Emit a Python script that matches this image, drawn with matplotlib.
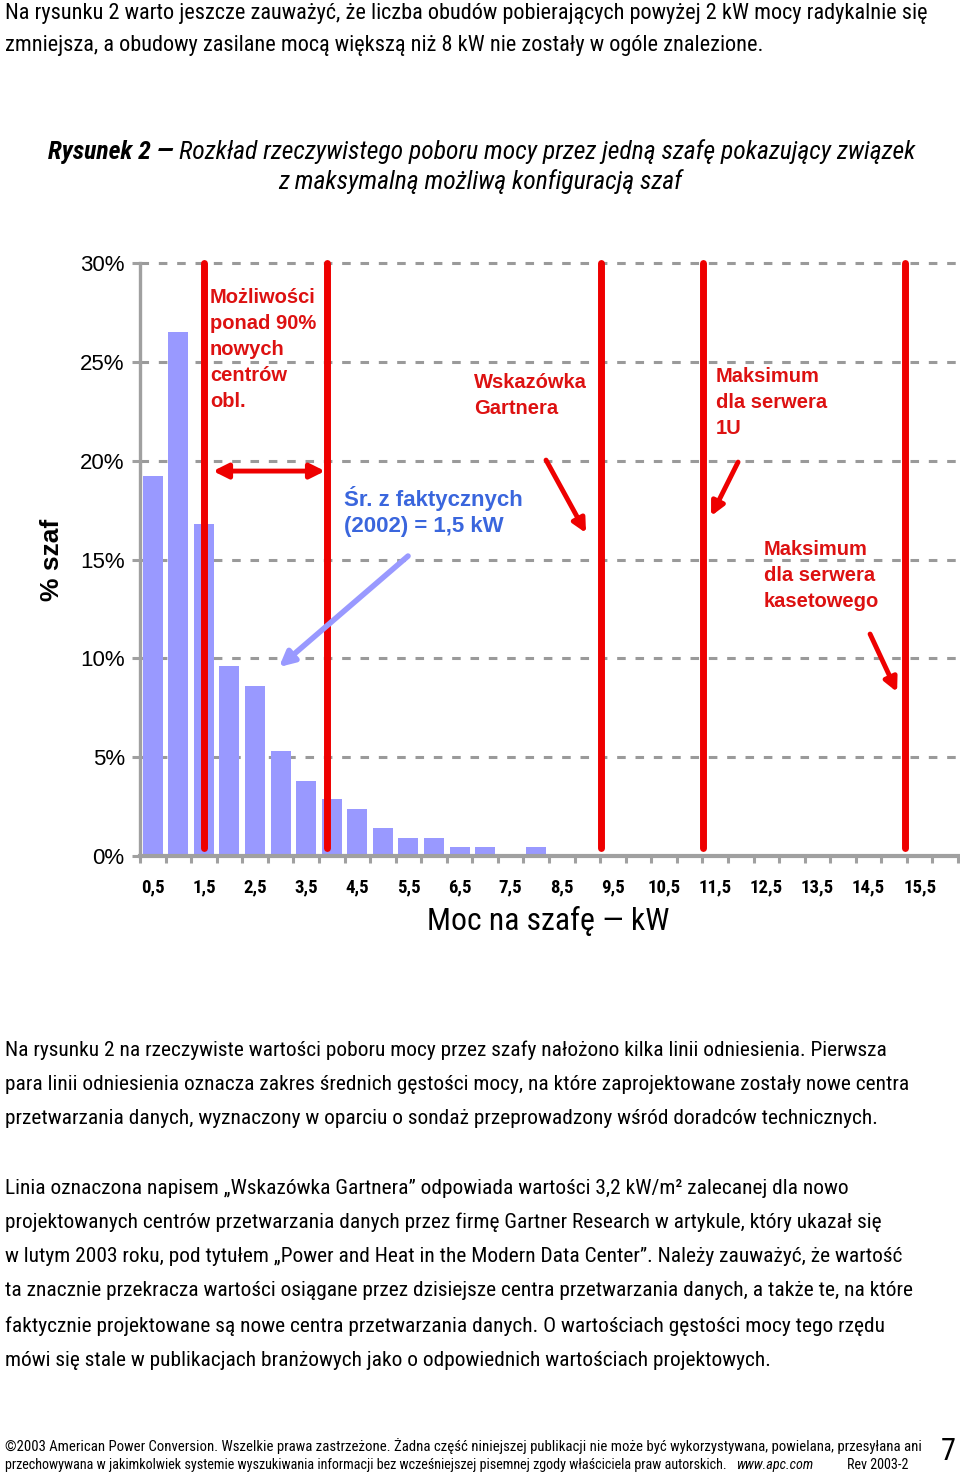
import matplotlib
matplotlib.use("Agg")
import matplotlib.pyplot as plt
from matplotlib import font_manager as fm
import numpy as np

# ---------------- data ----------------
power_kw = [0.5, 1.0, 1.5, 2.0, 2.5, 3.0, 3.5, 4.0, 4.5, 5.0, 5.5, 6.0, 6.5, 7.0, 7.5, 8.0,
            8.5, 9.0, 9.5, 10.0, 10.5, 11.0, 11.5, 12.0, 12.5, 13.0, 13.5, 14.0, 14.5, 15.0, 15.5, 16.0]
share_pct = [19.2, 26.5, 16.8, 9.6, 8.6, 5.3, 3.8, 2.9, 2.4, 1.4, 0.9, 0.9, 0.45, 0.45, 0.0, 0.45,
             0, 0, 0, 0, 0, 0, 0, 0, 0, 0, 0, 0, 0, 0, 0, 0]
xtick_values = [0.5, 1.5, 2.5, 3.5, 4.5, 5.5, 6.5, 7.5, 8.5, 9.5, 10.5, 11.5, 12.5, 13.5, 14.5, 15.5]
xtick_labels = ["0,5", "1,5", "2,5", "3,5", "4,5", "5,5", "6,5", "7,5", "8,5", "9,5",
                "10,5", "11,5", "12,5", "13,5", "14,5", "15,5"]
ytick_values = [0, 5, 10, 15, 20, 25, 30]
ytick_labels = ["0%", "5%", "10%", "15%", "20%", "25%", "30%"]
ref_lines_kw = [1.5, 3.9, 9.27, 11.26, 15.21]

# ---------------- fonts ----------------
names = {f.name for f in fm.fontManager.ttflist}
NARROW = "Roboto Condensed" if "Roboto Condensed" in names else "Liberation Sans"
SANS = "Liberation Sans"

W, H = 960, 1476
fig = plt.figure(figsize=(W / 100, H / 100), dpi=100)
fig.patch.set_facecolor("white")
renderer = fig.canvas.get_renderer()


def fx(px):
    return px / W


def fy(py):
    return 1 - py / H


def ftext(x, y, s, size, target_w=None, **kw):
    t = fig.text(fx(x), fy(y), s, fontsize=size, **kw)
    if target_w:
        w = t.get_window_extent(renderer).width
        t.set_fontsize(size * target_w / w)
    return t


# ---------------- top paragraph ----------------
ftext(5, 13, "Na rysunku 2 warto jeszcze zauważyć, że liczba obudów pobierających powyżej 2 kW mocy radykalnie się",
      14, target_w=927, family=NARROW, va="center", ha="left")
ftext(5, 45, "zmniejsza, a obudowy zasilane mocą większą niż 8 kW nie zostały w ogóle znalezione.",
      14, target_w=759, family=NARROW, va="center", ha="left")

# ---------------- title ----------------
t1 = fig.text(0, fy(152), "Rysunek 2 — ", fontsize=20, family=NARROW, weight="bold", style="italic", va="center")
t2 = fig.text(0, fy(152), "Rozkład rzeczywistego poboru mocy przez jedną szafę pokazujący związek",
              fontsize=20, family=NARROW, style="italic", va="center")
w1 = t1.get_window_extent(renderer).width
w2 = t2.get_window_extent(renderer).width
scale = (913 - 48) / (w1 + w2)
t1.set_fontsize(20 * scale)
t2.set_fontsize(20 * scale)
w1 = t1.get_window_extent(renderer).width
t1.set_x(fx(48))
t2.set_x(fx(48 + w1))
fig.text(fx(480), fy(182), "z maksymalną możliwą konfiguracją szaf", fontsize=20 * scale,
         family=NARROW, style="italic", va="center", ha="center")

# ---------------- chart ----------------
ax = fig.add_axes([fx(140), fy(856), fx(958) - fx(140), fy(263) - fy(856)])
ax.set_xlim(0.25, 16.25)
ax.set_ylim(0, 30)

GRID = "#9a9a9a"
for yv in ytick_values[1:]:
    ax.axhline(yv, color=GRID, lw=2.2, linestyle=(0, (2.8, 3.2)), zorder=1, clip_on=False)

ax.bar(power_kw, share_pct, width=0.39, color="#9999ff", zorder=2)

for xv in ref_lines_kw:
    ax.plot([xv, xv], [0.4, 30], color="#ee0000", lw=5.0, solid_capstyle="round", zorder=4, clip_on=False)

for side in ["top", "right"]:
    ax.spines[side].set_visible(False)
ax.spines["left"].set_color("#a0a0a0")
ax.spines["left"].set_linewidth(2.4)
ax.spines["bottom"].set_color("#a0a0a0")
ax.spines["bottom"].set_linewidth(3.0)
ax.spines["left"].set_zorder(3)

ax.set_yticks(ytick_values)
ax.set_yticklabels(ytick_labels, fontsize=16, family=SANS)
ax.tick_params(axis="y", length=6, width=2.2, color="#a0a0a0", pad=5)

ax.set_xticks(xtick_values)
ax.set_xticklabels(xtick_labels, fontsize=13.5, family=NARROW, weight="bold")
ax.set_xticks(np.arange(0.25, 16.3, 0.5), minor=True)
ax.tick_params(axis="x", which="major", length=0, pad=16)
ax.tick_params(axis="x", which="minor", length=5, width=2.2, color="#a0a0a0")

fig.text(fx(52), fy(560), "% szaf", rotation=90, fontsize=19, weight="bold", family=SANS,
         ha="center", va="center")
ftext(548, 921, "Moc na szafę — kW", 20, target_w=243, family=NARROW, ha="center", va="center")

RED = "#dd1111"
BLUE = "#3a66dd"


def px2d(px, py):
    return 0.25 + (px - 140) / 51.12, (856 - py) / 19.77


def atext(px, py, s, color, size, ls=1.46):
    x, y = px2d(px, py)
    ax.text(x, y, s, color=color, fontsize=size, weight="bold", family=SANS, va="top", ha="left",
            linespacing=ls, zorder=5)


def arrow(p0, p1, color, style="-|>", lw=3.5, ms=20):
    ax.annotate("", xy=px2d(*p1), xytext=px2d(*p0),
                arrowprops=dict(arrowstyle=style, color=color, lw=lw, mutation_scale=ms,
                                shrinkA=0, shrinkB=0), zorder=5)


atext(210, 288, "Możliwości\nponad 90%\nnowych\ncentrów\nobl.", RED, 14.5)
arrow((213, 471), (325, 471), "#ee0000", style="<|-|>", lw=3.5, ms=22)
atext(344, 486, "Śr. z faktycznych\n(2002) = 1,5 kW", BLUE, 16, ls=1.3)
arrow((408, 556), (279, 667), "#9999ff", lw=4, ms=22)
atext(474, 373, "Wskazówka\nGartnera", RED, 14.5)
arrow((546, 460), (586, 533), "#ee0000", lw=3.5, ms=20)
atext(716, 367, "Maksimum\ndla serwera\n1U", RED, 14.5)
arrow((738, 462), (711, 516), "#ee0000", lw=3.5, ms=20)
atext(764, 540, "Maksimum\ndla serwera\nkasetowego", RED, 14.5)
arrow((870, 634), (897, 692), "#ee0000", lw=3.5, ms=20)

# ---------------- body text ----------------
body1 = [
    "Na rysunku 2 na rzeczywiste wartości poboru mocy przez szafy nałożono kilka linii odniesienia. Pierwsza",
    "para linii odniesienia oznacza zakres średnich gęstości mocy, na które zaprojektowane zostały nowe centra",
    "przetwarzania danych, wyznaczony w oparciu o sondaż przeprowadzony wśród doradców technicznych.",
]
body2 = [
    "Linia oznaczona napisem „Wskazówka Gartnera” odpowiada wartości 3,2 kW/m² zalecanej dla nowo",
    "projektowanych centrów przetwarzania danych przez firmę Gartner Research w artykule, który ukazał się",
    "w lutym 2003 roku, pod tytułem „Power and Heat in the Modern Data Center”. Należy zauważyć, że wartość",
    "ta znacznie przekracza wartości osiągane przez dzisiejsze centra przetwarzania danych, a także te, na które",
    "faktycznie projektowane są nowe centra przetwarzania danych. O wartościach gęstości mocy tego rzędu",
    "mówi się stale w publikacjach branżowych jako o odpowiednich wartościach projektowych.",
]
ref = ftext(5, 1050, body1[0], 14, target_w=885, family=NARROW, va="center", ha="left")
bsize = ref.get_fontsize()
for s, y in zip(body1[1:], [1085, 1119]):
    ftext(5, y, s, bsize, family=NARROW, va="center", ha="left")
for s, y in zip(body2, [1188, 1222, 1257, 1291, 1326, 1360]):
    ftext(5, y, s, bsize, family=NARROW, va="center", ha="left")

# ---------------- footer ----------------
ftext(5, 1446, "©2003 American Power Conversion. Wszelkie prawa zastrzeżone. Żadna część niniejszej publikacji "
      "nie może być wykorzystywana, powielana, przesyłana ani", 10, target_w=905,
      family=NARROW, va="center", ha="left")
f2 = ftext(5, 1465, "przechowywana w jakimkolwiek systemie wyszukiwania informacji bez wcześniejszej "
           "pisemnej zgody właściciela praw autorskich.", 10, target_w=722,
           family=NARROW, va="center", ha="left")
fs = f2.get_fontsize()
fig.text(fx(736), fy(1465), "www.apc.com", fontsize=fs, family=NARROW, style="italic", va="center")
fig.text(fx(908), fy(1465), "Rev 2003-2", fontsize=fs, family=NARROW, va="center", ha="right")
fig.text(fx(948), fy(1452), "7", fontsize=22, family=NARROW, va="center", ha="center")

fig.savefig("out.png", dpi=100, facecolor="white")
